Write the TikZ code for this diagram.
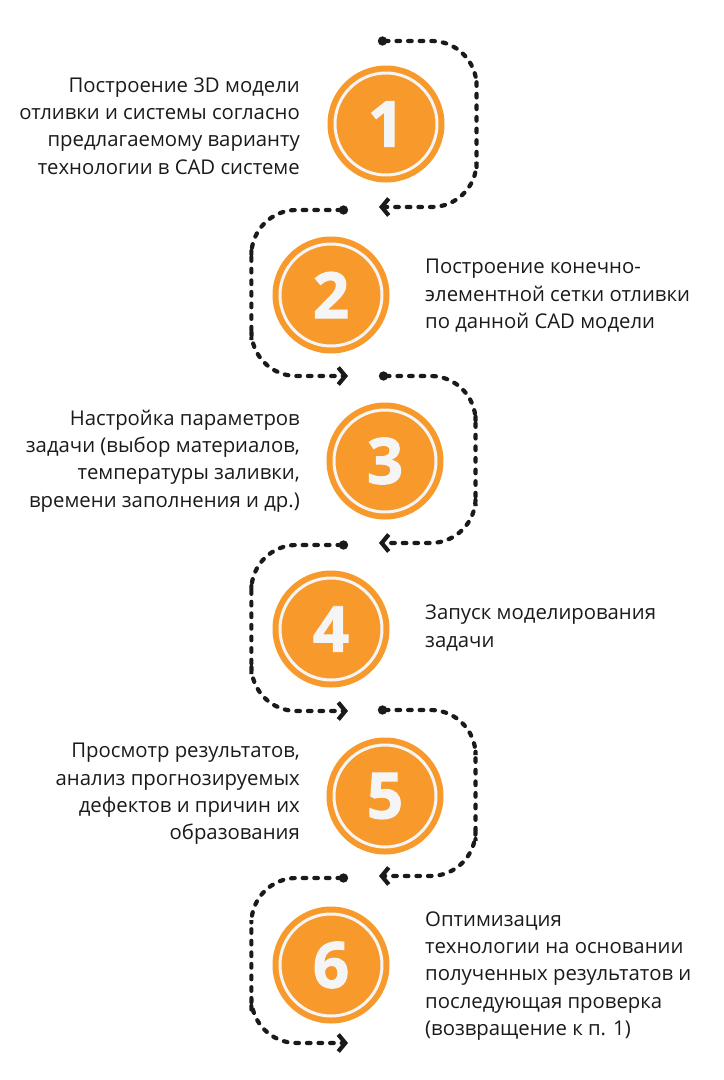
\documentclass[tikz,border=0pt]{standalone}
\usepackage{fontspec}
\setmainfont{Open Sans}
\newfontfamily\numfont[UprightFont={* Bold},UprightFeatures={FakeBold=1.5}]{Open Sans}
\usetikzlibrary{arrows.meta,positioning,calc}
\definecolor{stepor}{RGB}{247,153,43}
\definecolor{stepring}{RGB}{245,245,245}
\definecolor{steptext}{RGB}{26,26,26}
\tikzset{numcirc/.style={circle,fill=stepor,minimum size=117bp,inner sep=0pt,text=stepring,
    font=\fontsize{64}{64}\selectfont\numfont},
  ring/.style={draw=stepring,line width=3bp},
  flow/.style={{Circle[length=9bp]}-{Straight Barb[length=7bp,width=17bp]},line width=4.2bp,
    draw=steptext,dash pattern=on 3.6bp off 8bp,line cap=round,rounded corners=45bp},
  ltext/.style={anchor=east,align=right,inner sep=0pt,text=steptext,font=\fontsize{20.4}{27.5}\selectfont},
  rtext/.style={anchor=west,align=left,inner sep=0pt,text=steptext,font=\fontsize{20.4}{27.5}\selectfont}}

\begin{document}
\begin{tikzpicture}[x=1bp,y=-1bp]
\useasboundingbox (0,0) rectangle (724,1080);
% steps
\node[numcirc] (c1) at (386,124) {1};
\node[numcirc] (c2) at (331,295) {2};
\node[numcirc] (c3) at (385,461) {3};
\node[numcirc] (c4) at (331,629) {4};
\node[numcirc] (c5) at (385,796) {5};
\node[numcirc] (c6) at (331,965) {6};
\foreach \n in {1,...,6}
  \draw[ring] (c\n.center) circle (51);
% texts
\node[ltext] (t1) at (300,126) {Построение 3D модели\\отливки и системы согласно\\предлагаемому варианту\\технологии в CAD системе};
\node[rtext] (t2) at (425,296) {Построение конечно-\\элементной сетки отливки\\по данной CAD модели};
\node[ltext] (t3) at (300,461) {Настройка параметров\\задачи (выбор материалов,\\температуры заливки,\\времени заполнения и др.)};
\node[rtext] (t4) at (425,628) {Запуск моделирования\\задачи};
\node[ltext] (t5) at (300,794) {Просмотр результатов,\\анализ прогнозируемых\\дефектов и причин их\\образования};
\node[rtext] (t6) at (425,976) {Оптимизация\\технологии на основании\\полученных результатов и\\последующая проверка\\(возвращение к п. 1)};
% loops
\coordinate (s1) at (378,41);  \coordinate (e1) at (379,207);
\coordinate (s2) at (348,210); \coordinate (e2) at (348,376);
\coordinate (s3) at (379,376); \coordinate (e3) at (379,543);
\coordinate (s4) at (348,545); \coordinate (e4) at (348,711);
\coordinate (s5) at (378,710); \coordinate (e5) at (379,876);
\coordinate (s6) at (348,878); \coordinate (e6) at (348,1043);
\draw[flow] (s1) -| ([xshift=32]c1.east) |- (e1);
\draw[flow] (s2) -| ([xshift=-21]c2.west) |- (e2);
\draw[flow] (s3) -| ([xshift=32]c3.east) |- (e3);
\draw[flow] (s4) -| ([xshift=-21]c4.west) |- (e4);
\draw[flow] (s5) -| ([xshift=32]c5.east) |- (e5);
\draw[flow] (s6) -| ([xshift=-21]c6.west) |- (e6);
\end{tikzpicture}
\end{document}
